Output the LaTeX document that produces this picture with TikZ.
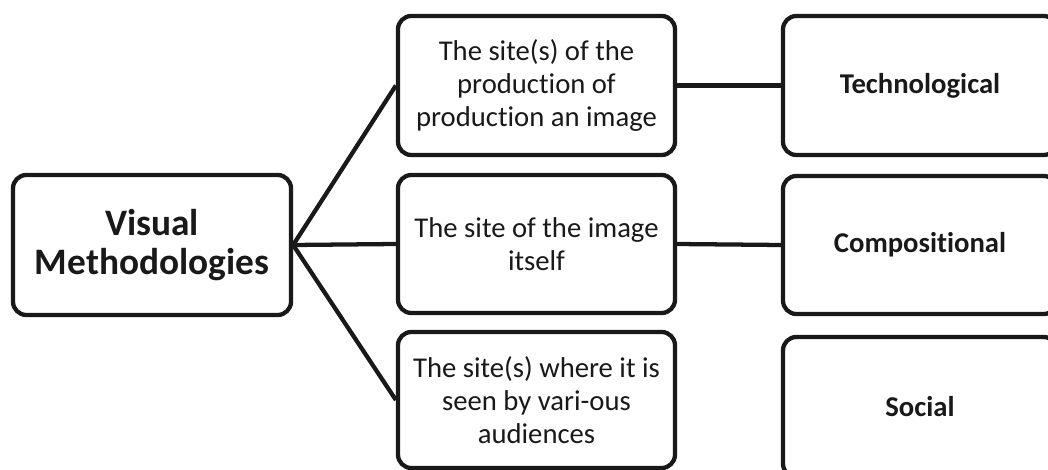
\documentclass[tikz,border=0pt]{standalone}
\usepackage{fontspec}
\setmainfont{Carlito}[Ligatures=NoCommon]
\begin{document}
\begin{tikzpicture}[x=0.75pt,y=-0.75pt,
  box/.style={draw=black!90, line width=3.2pt, rounded corners=10pt, fill=white,
    align=center, text=black!90, inner sep=2pt},
  leftbox/.style={box, minimum width=208.5pt, minimum height=105pt,
    font=\bfseries\fontsize{28}{29}\selectfont},
  midbox/.style={box, minimum width=207.75pt,
    font=\fontsize{21.5}{24.5}\selectfont},
  rightbox/.style={box, minimum width=205.5pt,
    font=\bfseries\fontsize{21.5}{24.5}\selectfont},
  link/.style={draw=black!90, line width=3.2pt}]
\useasboundingbox (0,0) rectangle (1048,470);
\clip (0,0) rectangle (1048,470);
\fill[white] (0,0) rectangle (1048,470);

% root
\node[leftbox] (root) at (152,245) {Visual\\Methodologies};

% sites
\node[midbox, minimum height=104.25pt] (prod) at (536.5,85.5)
  {The site(s) of the\\production of\\production an image};
\node[midbox, minimum height=103.5pt] (img) at (536.5,244)
  {The site of the image\\itself};
\node[midbox, minimum height=102pt] (aud) at (536.5,400)
  {The site(s) where it is\\seen by vari-ous\\audiences};

% modalities
\node[rightbox, minimum height=104.25pt] (tech) at (920,85.5) {Technological};
\node[rightbox, minimum height=103.5pt] (comp) at (920,245) {Compositional};
\node[rightbox, minimum height=105pt] (soc) at (920,407) {Social};

% connectors
\draw[link] (root.east) -- (prod.west);
\draw[link] (root.east) -- (img.west);
\draw[link] (root.east) -- (aud.west);
\draw[link] (prod.east) -- (tech.west);
\draw[link] (img.east) -- (comp.west);
\end{tikzpicture}
\end{document}
